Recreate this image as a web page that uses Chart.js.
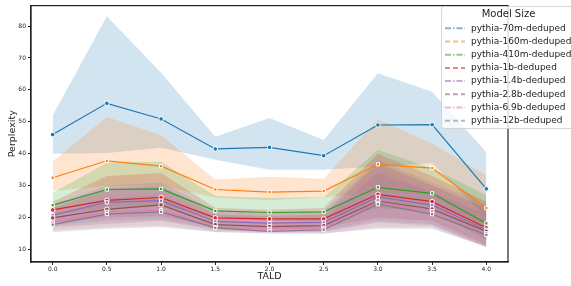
<!DOCTYPE html>
<html>
<head>
<meta charset="utf-8">
<script src="https://cdn.jsdelivr.net/npm/chart.js@4"></script>
<style>
  html, body { margin: 0; padding: 0; background: #fff; }
</style>
</head>
<body>
<canvas id="chart" width="571" height="286"></canvas>
<script>
  'use strict';

  // TALD positions on the x axis.
  var taldValues = [0.0, 0.5, 1.0, 1.5, 2.0, 2.5, 3.0, 3.5, 4.0];
  var xTickValues = [0.0, 0.5, 1.0, 1.5, 2.0, 2.5, 3.0, 3.5, 4.0];
  var yTickValues = [10, 20, 30, 40, 50, 60, 70, 80];

  var seriesNames = [
    'pythia-70m-deduped',
    'pythia-160m-deduped',
    'pythia-410m-deduped',
    'pythia-1b-deduped',
    'pythia-1.4b-deduped',
    'pythia-2.8b-deduped',
    'pythia-6.9b-deduped',
    'pythia-12b-deduped'
  ];

  // Mean perplexity per model, one row per model.
  var meanValues = [
    [46.0, 55.8, 50.9, 41.5, 42.0, 39.4, 49.0, 49.1, 29.0],
    [32.5, 37.8, 36.1, 28.8, 28.0, 28.3, 36.7, 35.5, 23.0],
    [23.9, 28.8, 29.0, 22.1, 21.6, 21.8, 29.5, 27.6, 18.2],
    [22.4, 25.4, 26.3, 19.9, 19.6, 19.6, 27.3, 25.0, 16.8],
    [20.8, 24.8, 25.3, 18.8, 18.3, 18.5, 26.5, 23.9, 16.2],
    [19.9, 22.6, 24.0, 17.8, 17.2, 17.5, 25.2, 22.7, 15.7],
    [18.5, 21.8, 22.3, 17.0, 16.5, 16.8, 24.7, 22.0, 15.1],
    [17.8, 21.1, 21.8, 16.8, 15.7, 16.2, 24.2, 21.1, 14.6]
  ];

  // Lower edge of the confidence band.
  var lowerValues = [
    [40.0, 40.2, 41.9, 38.1, 35.0, 35.0, 36.0, 37.0, 20.0],
    [28.3, 30.0, 30.0, 26.3, 25.4, 26.3, 28.0, 27.0, 16.0],
    [21.0, 23.0, 24.0, 19.5, 19.0, 19.0, 23.0, 22.0, 13.0],
    [18.5, 20.0, 20.5, 17.0, 16.5, 17.0, 20.0, 19.0, 11.5],
    [17.5, 19.0, 19.5, 16.5, 16.0, 16.0, 19.0, 18.0, 11.0],
    [17.0, 18.0, 19.0, 16.0, 15.5, 15.5, 18.5, 17.5, 10.8],
    [16.0, 17.0, 17.5, 15.5, 15.0, 15.0, 17.0, 17.0, 10.8],
    [15.4, 16.5, 17.0, 15.5, 15.0, 15.0, 16.5, 16.5, 10.8]
  ];

  // Upper edge of the confidence band.
  var upperValues = [
    [52.0, 83.1, 65.4, 45.3, 51.2, 44.3, 65.2, 59.4, 40.5],
    [37.6, 51.5, 45.8, 31.9, 32.8, 32.2, 50.8, 43.2, 33.3],
    [27.8, 37.2, 37.5, 26.8, 26.2, 26.4, 41.2, 35.5, 27.0],
    [25.0, 33.0, 34.0, 23.0, 22.5, 23.0, 40.0, 33.0, 25.0],
    [24.0, 30.0, 31.0, 22.0, 21.5, 22.0, 38.0, 31.0, 24.0],
    [23.0, 29.0, 30.0, 21.0, 20.5, 21.0, 37.0, 30.0, 23.0],
    [21.5, 27.0, 28.0, 20.0, 19.5, 20.0, 35.0, 29.0, 22.0],
    [20.5, 26.0, 27.0, 19.5, 18.5, 19.5, 34.0, 28.0, 21.0]
  ];

  var COLORS = ['#1f77b4', '#ff7f0e', '#2ca02c', '#d62728', '#9467bd', '#8c564b', '#e377c2', '#7f7f7f'];
  var DASHES = [[6, 2, 1.5, 2], [5, 3], [6, 2, 1.5, 2], [5, 3], [6, 2, 1.5, 2], [5, 3], [6, 2, 1.5, 2], [5, 3]];
  var MARKERS = ['circle', 'rect', 'rect', 'circle', 'rect', 'circle', 'rect', 'rect'];
  var TEXT_COLOR = '#222';

  function rgba(hex, a) {
    var num = parseInt(hex.replace('#', ''), 16);
    return 'rgba(' + ((num >> 16) & 255) + ',' + ((num >> 8) & 255) + ',' + (num & 255) + ',' + a + ')';
  }

  function points(vals) {
    return taldValues.map(function (x, i) { return { x: x, y: vals[i] }; });
  }

  // Bands go underneath every line (matplotlib zorder), series in order.
  var datasets = [];
  seriesNames.forEach(function (name, k) {
    var color = COLORS[k];
    datasets.push({
      label: name,
      data: points(meanValues[k]),
      borderColor: color,
      backgroundColor: color,
      borderWidth: 1.2,
      pointStyle: MARKERS[k],
      pointRadius: 2.3,
      pointBackgroundColor: color,
      pointBorderColor: '#fff',
      pointBorderWidth: 1,
      fill: false,
      order: 50 - k
    });
    datasets.push({
      label: name + ' lower',
      data: points(lowerValues[k]),
      borderColor: 'rgba(0,0,0,0)',
      borderWidth: 0,
      pointRadius: 0,
      fill: false,
      order: 100 - k
    });
    datasets.push({
      label: name + ' upper',
      data: points(upperValues[k]),
      borderColor: 'rgba(0,0,0,0)',
      borderWidth: 0,
      pointRadius: 0,
      backgroundColor: rgba(color, 0.2),
      fill: '-1',
      order: 100 - k
    });
  });

  /**
   * Frame around the plot area and the matplotlib-style legend box.
   */
  var decorations = {
    id: 'decorations',
    afterDatasetsDraw: function (chart) {
      var ctx = chart.ctx;
      var a = chart.chartArea;
      ctx.save();
      ctx.strokeStyle = '#222';
      ctx.lineWidth = 1.2;
      ctx.strokeRect(a.left, a.top, a.right - a.left, a.bottom - a.top);
      ctx.restore();
    },
    afterDraw: function (chart) {
      var ctx = chart.ctx;
      var boxX = 441.5, boxY = 6.5, boxW = 180, boxH = 122, r = 3;
      ctx.save();
      ctx.beginPath();
      ctx.moveTo(boxX + r, boxY);
      ctx.lineTo(boxX + boxW - r, boxY);
      ctx.arcTo(boxX + boxW, boxY, boxX + boxW, boxY + r, r);
      ctx.lineTo(boxX + boxW, boxY + boxH - r);
      ctx.arcTo(boxX + boxW, boxY + boxH, boxX + boxW - r, boxY + boxH, r);
      ctx.lineTo(boxX + r, boxY + boxH);
      ctx.arcTo(boxX, boxY + boxH, boxX, boxY + boxH - r, r);
      ctx.lineTo(boxX, boxY + r);
      ctx.arcTo(boxX, boxY, boxX + r, boxY, r);
      ctx.closePath();
      ctx.fillStyle = 'rgba(255,255,255,0.8)';
      ctx.fill();
      ctx.strokeStyle = 'rgba(204,204,204,0.8)';
      ctx.lineWidth = 1;
      ctx.stroke();

      ctx.fillStyle = TEXT_COLOR;
      ctx.textBaseline = 'middle';
      ctx.textAlign = 'center';
      ctx.font = '10px "DejaVu Sans"';
      ctx.fillText('Model Size', 508.5, 14.5);

      ctx.textAlign = 'left';
      ctx.font = '9px "DejaVu Sans"';
      seriesNames.forEach(function (name, k) {
        var y = 28.3 + k * 13.2;
        ctx.save();
        ctx.globalAlpha = 0.55;
        ctx.strokeStyle = COLORS[k];
        ctx.lineWidth = 2;
        ctx.setLineDash(DASHES[k]);
        ctx.beginPath();
        ctx.moveTo(445, y);
        ctx.lineTo(465, y);
        ctx.stroke();
        ctx.restore();
        ctx.fillStyle = TEXT_COLOR;
        ctx.fillText(name, 471, y);
      });
      ctx.restore();
    }
  };

  Chart.defaults.font.family = '"DejaVu Sans"';
  Chart.defaults.color = TEXT_COLOR;

  new Chart(document.getElementById('chart').getContext('2d'), {
    type: 'line',
    data: { datasets: datasets },
    options: {
      responsive: false,
      animation: false,
      events: [],
      layout: { padding: { top: 2, right: 63, left: 0, bottom: 0 } },
      plugins: {
        legend: { display: false },
        tooltip: { enabled: false }
      },
      elements: { line: { tension: 0 } },
      scales: {
        x: {
          type: 'linear',
          min: -0.2,
          max: 4.2,
          afterBuildTicks: function (scale) {
            scale.ticks = xTickValues.map(function (v) { return { value: v }; });
          },
          afterFit: function (scale) { scale.height = 24; },
          ticks: {
            font: { size: 6 },
            padding: 1,
            maxRotation: 0,
            callback: function (v) { return Number(v).toFixed(1); }
          },
          grid: { display: true, drawOnChartArea: false, drawTicks: true, tickLength: 3, tickColor: '#222' },
          border: { display: true, color: '#222', width: 1.2 },
          title: { display: true, text: 'TALD', font: { size: 9.5 }, padding: { top: 0, bottom: 3.5 } }
        },
        y: {
          min: 6.1,
          max: 86.4,
          afterBuildTicks: function (scale) {
            scale.ticks = yTickValues.map(function (v) { return { value: v }; });
          },
          afterFit: function (scale) { scale.width = 31; },
          ticks: { font: { size: 6 }, padding: 2 },
          grid: { display: true, drawOnChartArea: false, drawTicks: true, tickLength: 3, tickColor: '#222' },
          border: { display: true, color: '#222', width: 1.2 },
          title: { display: true, text: 'Perplexity', font: { size: 9.5 }, padding: { top: 7.3, bottom: 0 } }
        }
      }
    },
    plugins: [decorations]
  });
</script>
</body>
</html>
